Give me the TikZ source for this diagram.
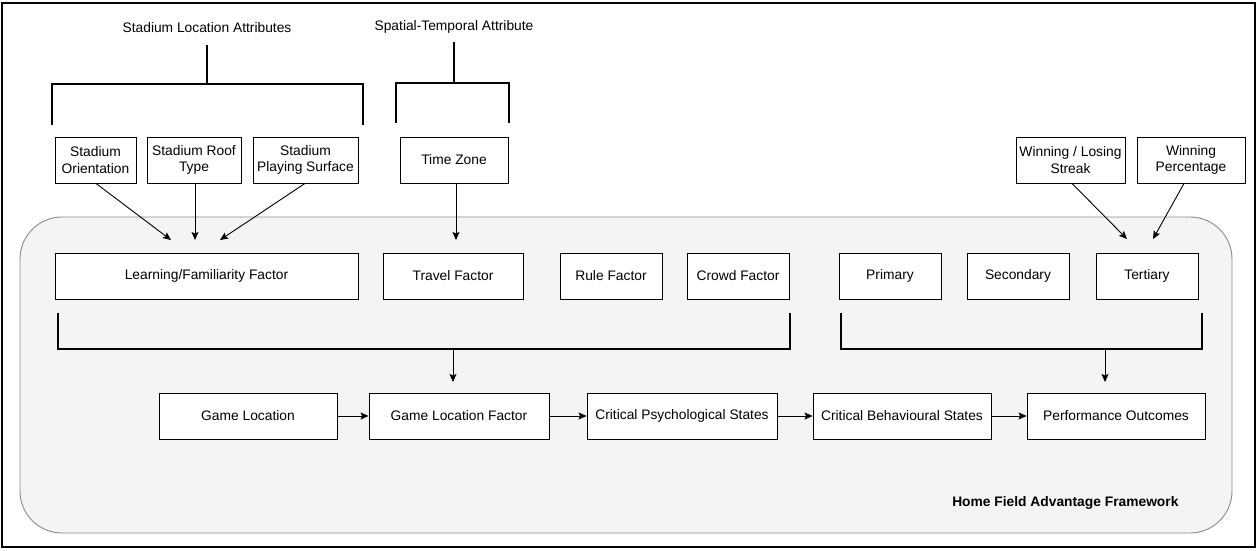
\documentclass[tikz,border=0pt]{standalone}
\usepackage{fontspec}
\setmainfont{Liberation Sans}
\usetikzlibrary{arrows.meta}
\definecolor{panelfill}{HTML}{F4F4F4}
\definecolor{panelline}{HTML}{8A8A8A}
\tikzset{
  box/.style={draw=black, line width=0.9pt, fill=white, minimum height=46pt, inner sep=1pt,
    align=center, font=\fontsize{13.8}{16.5}\selectfont},
  arr/.style={line width=0.9pt, -{Stealth[length=8pt,width=7pt,inset=1.5pt]}},
  brk/.style={line width=2.6pt, line cap=butt, line join=miter},
  ttl/.style={font=\fontsize{13.8}{16.5}\selectfont},
}
\begin{document}
\begin{tikzpicture}[x=1pt,y=-1pt]
\useasboundingbox (0,0) rectangle (1259,550);
\draw[line width=2pt] (2,3) rectangle (1255,547);
% framework panel
\draw[fill=panelfill, draw=panelline, line width=0.9pt, rounded corners=42pt] (20,217) rectangle (1232,533);
\node[font=\bfseries\fontsize{13.8}{16.5}\selectfont, anchor=east] (hfa) at (1182,503) {Home Field Advantage Framework};
% titles
\node[ttl] (sla) at (207,28) {Stadium Location Attributes};
\node[ttl] (sta) at (454,27) {Spatial-Temporal Attribute};
% top brackets
\draw[brk] (207,45) -- (207,84);
\draw[brk] (52,125) -- (52,84) -- (363,84) -- (363,125);
\draw[brk] (454,42) -- (454,83);
\draw[brk] (396,123) -- (396,83) -- (509,83) -- (509,123);
% top row
\node[box, minimum width=81pt] (so) at (95.5,160) {Stadium\\Orientation};
\node[box, minimum width=94pt] (sr) at (194,160) {Stadium Roof\\Type};
\node[box, minimum width=105pt] (sp) at (305.5,160) {Stadium\\Playing Surface};
\node[box, minimum width=108pt] (tz) at (454,160) {Time Zone};
\node[box, minimum width=109pt] (wl) at (1070.5,160) {Winning / Losing\\Streak};
\node[box, minimum width=108pt] (wp) at (1191,160) {Winning\\Percentage};
% middle row
\node[box, minimum width=303pt] (lf) at (206.5,276) {Learning/Familiarity Factor};
\node[box, minimum width=140pt] (tf) at (453,276) {Travel Factor};
\node[box, minimum width=102pt] (rf) at (611,276) {Rule Factor};
\node[box, minimum width=102pt] (cf) at (738,276) {Crowd Factor};
\node[box, minimum width=102pt] (pr) at (890,276) {Primary};
\node[box, minimum width=102pt] (se) at (1018,276) {Secondary};
\node[box, minimum width=102pt] (te) at (1147,276) {Tertiary};
% bottom row
\node[box, minimum width=178pt] (gl) at (248,416) {Game Location};
\node[box, minimum width=180pt] (glf) at (459,416) {Game Location Factor};
\node[box, minimum width=190pt] (cps) at (682,416) {Critical Psychological States};
\node[box, minimum width=178pt] (cbs) at (902,416) {Critical Behavioural States};
\node[box, minimum width=178pt] (po) at (1116,416) {Performance Outcomes};
% arrow ends
\coordinate (e1) at (171,240);
\coordinate (e2) at (195,240);
\coordinate (e3) at (220,240);
\coordinate (e4) at (456,240);
\coordinate (e5) at (1127,239);
\coordinate (e6) at (1153,239);
\coordinate (b1) at (453,349);
\coordinate (b1e) at (453,382);
\coordinate (b2) at (1105,349);
\coordinate (b2e) at (1105,382);
% arrows from top row
\draw[arr] (so.south -| 96,0) -- (e1);
\draw[arr] (sr.south -| e2) -- (e2);
\draw[arr] (sp.south -| 305,0) -- (e3);
\draw[arr] (tz.south -| e4) -- (e4);
\draw[arr] (wl.south -| 1072,0) -- (e5);
\draw[arr] (wp.south -| 1184,0) -- (e6);
% middle brackets
\draw[brk] (58,313) -- (58,349) -- (790,349) -- (790,313);
\draw[brk] (841,313) -- (841,349) -- (1202,349) -- (1202,313);
\draw[arr] (b1) -- (b1e);
\draw[arr] (b2) -- (b2e);
% bottom chain
\draw[arr] (gl) -- (glf);
\draw[arr] (glf) -- (cps);
\draw[arr] (cps) -- (cbs);
\draw[arr] (cbs) -- (po);
\end{tikzpicture}
\end{document}
